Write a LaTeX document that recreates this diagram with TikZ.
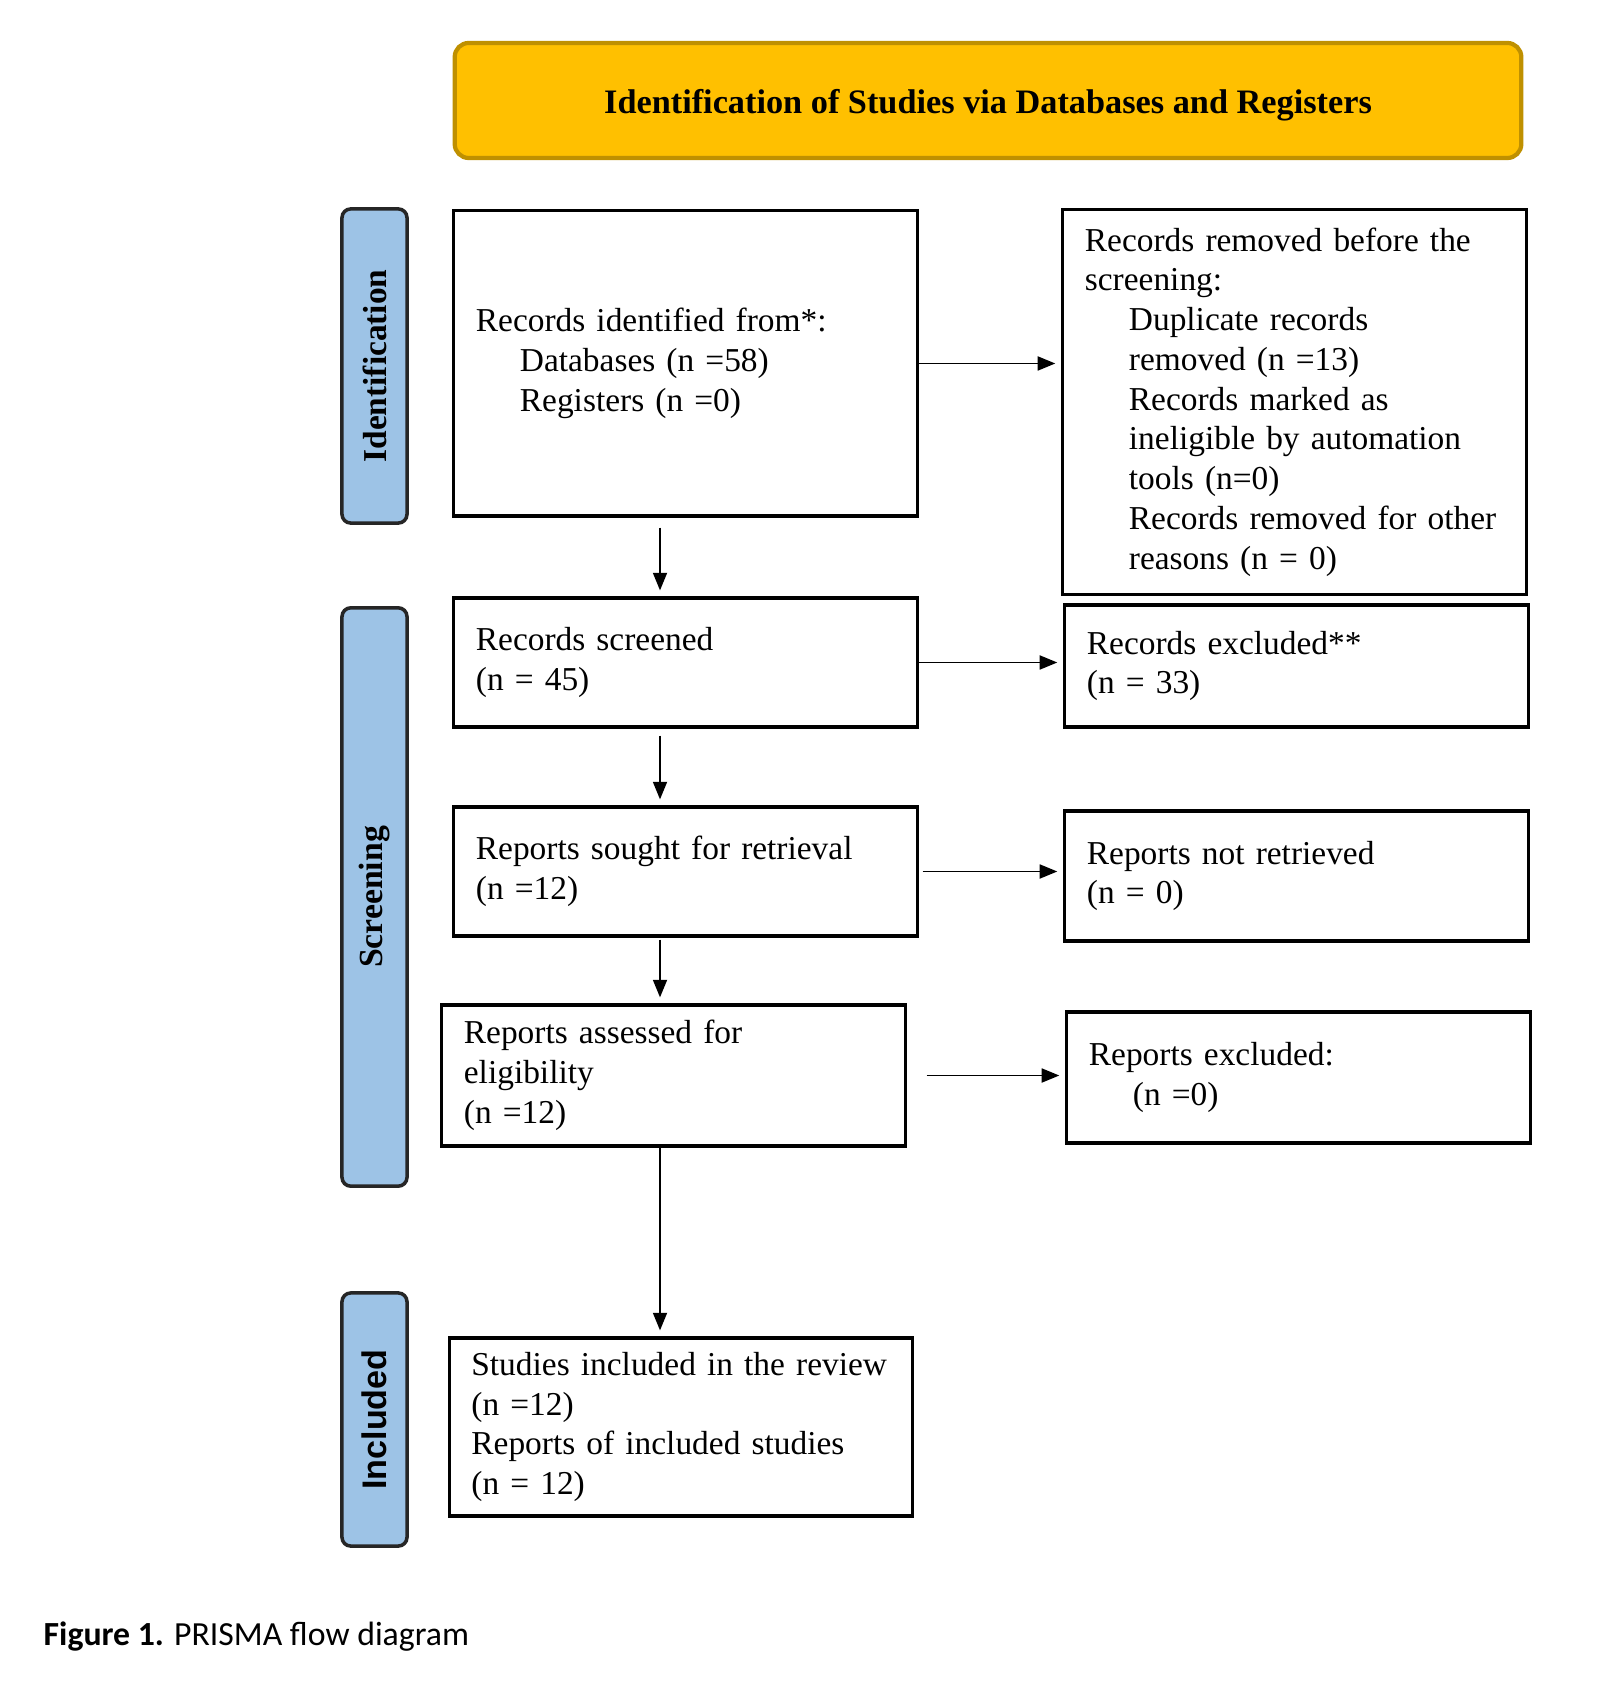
\documentclass[tikz,border=0pt]{standalone}
\usepackage{fontspec}
\setmainfont{Liberation Serif}
\newfontfamily\capfont{Carlito}
\newfontfamily\incfont{Liberation Sans}
\usetikzlibrary{arrows.meta}
\definecolor{hdrfill}{HTML}{FFC000}
\definecolor{hdrline}{HTML}{BF9000}
\definecolor{sidefill}{HTML}{9DC3E6}
\newcommand{\indnt}{\hspace*{0.44cm}}
\begin{document}
\begin{tikzpicture}[x=0.01cm,y=-0.01cm,
  box/.style={draw,line width=0.9pt,inner xsep=0.22cm,inner ysep=0pt,
    text width=4.19cm,align=left,minimum height=#1,
    font=\fontsize{9.5}{11.3}\selectfont},
  side/.style={draw=black!85,fill=sidefill,line width=1pt,rounded corners=2.5pt,
    rotate=90,minimum width=#1,minimum height=0.65cm,inner sep=0pt},
  arr/.style={-{Triangle[length=5pt,width=4pt]},line width=0.45pt,
    shorten >=0.06cm}]
\useasboundingbox (0,0) rectangle (1611,1686);

% header
\node[draw=hdrline,fill=hdrfill,line width=1.2pt,rounded corners=4pt,
  minimum width=10.66cm,minimum height=1.15cm,
  font=\bfseries\fontsize{9.75}{12}\selectfont] (head) at (988,100.5)
  {\raisebox{-0.13cm}[0pt][0pt]{Identification of Studies via Databases and Registers}};

% phase labels
\node[side=3.14cm,font=\bfseries\fontsize{9.5}{11}\selectfont] (ident) at (374.5,366) {Identification};
\node[side=5.78cm,font=\bfseries\fontsize{9.6}{11}\selectfont] (screen) at (374.5,897) {Screening};
\node[side=2.53cm,font=\incfont\bfseries\fontsize{9.7}{11}\selectfont] (incl) at (374.5,1419.5) {Included};

% boxes
\node[box=3.05cm] (found) at (685.5,363.5)
  {Records identified from*:\\ \indnt Databases (n =58)\\ \indnt Registers (n =0)};
\node[box=3.84cm] (removed) at (1294.5,402)
  {Records removed before the\\ screening:\\
   \indnt Duplicate records\\ \indnt removed (n =13)\\
   \indnt Records marked as\\ \indnt ineligible by automation\\
   \indnt tools (n=0)\\ \indnt Records removed for other\\
   \indnt reasons (n = 0)};
\node[box=1.29cm] (screened) at (685.5,662.5) {Records screened\\ (n = 45)};
\node[box=1.22cm] (excl) at (1296.5,666) {Records excluded**\\ (n = 33)};
\node[box=1.29cm] (sought) at (685.5,871.5) {Reports sought for retrieval\\ (n =12)};
\node[box=1.30cm] (notret) at (1296.5,876) {Reports not retrieved\\ (n = 0)};
\node[box=1.41cm] (assess) at (673.5,1075.5) {Reports assessed for\\ eligibility\\ (n =12)};
\node[box=1.31cm] (repexcl) at (1298.5,1077.5) {Reports excluded:\\ \indnt (n =0)};
\node[box=1.78cm] (studies) at (681,1427)
  {Studies included in the review\\ (n =12)\\ Reports of included studies\\ (n = 12)};

% arrows
\coordinate (spine) at (660,0);
\draw[arr] (found.east) -- (found.east -| removed.west);
\draw[arr] (screened.east) -- (screened.east -| excl.west);
\draw[arr,shorten <=0.04cm] (sought.east) -- (sought.east -| notret.west);
\draw[arr,shorten <=0.2cm] (assess.east) -- (assess.east -| repexcl.west);
\draw[arr,shorten <=0.1cm] (found.south -| spine) -- (screened.north -| spine);
\draw[arr,shorten <=0.07cm] (screened.south -| spine) -- (sought.north -| spine);
\draw[arr,shorten <=0.02cm] (sought.south -| spine) -- (assess.north -| spine);
\draw[arr] (assess.south -| spine) -- (studies.north -| spine);

% caption
\node[anchor=west,inner sep=0pt,font=\capfont\fontsize{9.6}{11}\selectfont] (cap) at (43,1637)
  {\textbf{Figure 1.} PRISMA flow diagram};
\end{tikzpicture}
\end{document}
